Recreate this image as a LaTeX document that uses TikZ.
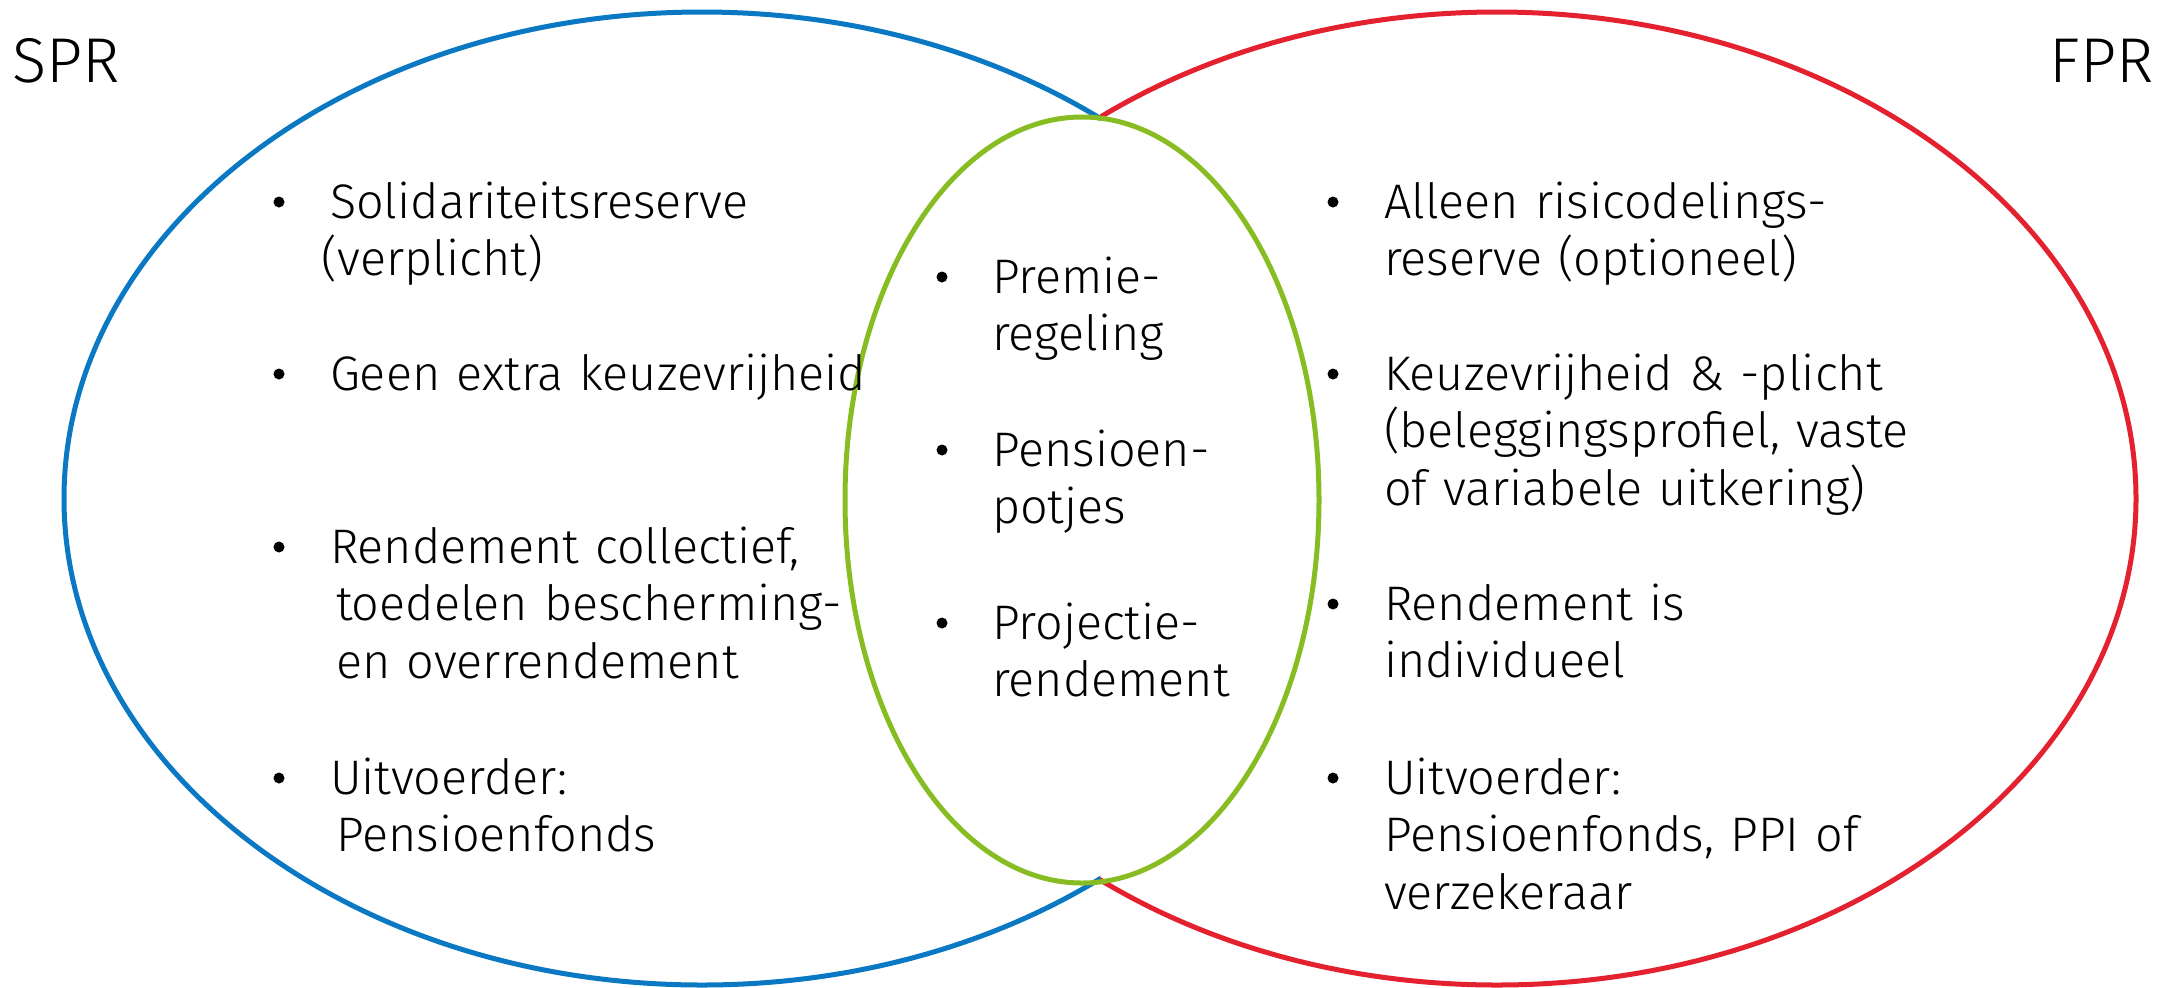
\documentclass[tikz,border=0pt]{standalone}
\usepackage{fontspec}
\setmainfont{Fira Sans Light}
\definecolor{sprblue}{HTML}{0A78C2}
\definecolor{fprred}{HTML}{E3212F}
\definecolor{midgreen}{HTML}{87BD23}
\begin{document}
\begin{tikzpicture}[x=0.01cm,y=-0.01cm,
  ring/.style={line width=0.05cm},
  txt/.style={anchor=base west, inner sep=0pt, outer sep=0pt, align=left, text width=7cm,
    font=\fontsize{13.8pt}{16.36pt}\selectfont},
  bul/.style={circle, fill=black, inner sep=0pt, minimum size=0.11cm},
  title/.style={anchor=base west, inner sep=0pt, font=\fontsize{18pt}{20pt}\selectfont}]
\useasboundingbox (0,0) rectangle (2166,987);
% blue set (left)
\begin{scope}
  \clip (0,0) rectangle (1100,987);
  \draw[ring, sprblue] (702,498.5) ellipse [x radius=638, y radius=486.5];
\end{scope}
% red set (right)
\begin{scope}
  \clip (1100,0) rectangle (2166,987);
  \draw[ring, fprred] (1497,498.5) ellipse [x radius=639, y radius=486.5];
\end{scope}
% green overlap
\draw[ring, midgreen] (1082,500) ellipse [x radius=237, y radius=383];

% titles
\node[title] (spr) at (12,82) {SPR};
\node[title] (fpr) at (2049,82) {FPR};

% left column
\node[bul] (lb1) at (279,202) {};
\node[txt] (lt1) at (330,218) {Solidariteitsreserve\\\hspace*{-0.08cm}(verplicht)};
\node[bul] (lb2) at (279,374) {};
\node[txt] (lt2) at (330,390) {Geen extra keuzevrijheid};
\node[bul] (lb3) at (279,547) {};
\node[txt] (lt3) at (330,563) {Rendement collectief,\\\hspace*{0.06cm}toedelen bescherming-\\\hspace*{0.06cm}en overrendement};
\node[bul] (lb4) at (279,778) {};
\node[txt] (lt4) at (330,794) {Uitvoerder:\\\hspace*{0.06cm}Pensioenfonds};

% middle column
\node[bul] (mb1) at (942,277) {};
\node[txt] (mt1) at (992,293) {Premie-\\regeling};
\node[bul] (mb2) at (942,450) {};
\node[txt] (mt2) at (992,466) {Pensioen-\\potjes};
\node[bul] (mb3) at (942,623) {};
\node[txt] (mt3) at (992,639) {Projectie-\\rendement};

% right column
\node[bul] (rb1) at (1333,202) {};
\node[txt] (rt1) at (1384,218) {Alleen risicodelings-\\reserve (optioneel)};
\node[bul] (rb2) at (1333,374) {};
\node[txt] (rt2) at (1384,390) {Keuzevrijheid \& -plicht\\(beleggingsprofiel, vaste\\of variabele uitkering)};
\node[bul] (rb3) at (1333,604) {};
\node[txt] (rt3) at (1384,620) {Rendement is\\individueel};
\node[bul] (rb4) at (1333,778) {};
\node[txt] (rt4) at (1384,794) {Uitvoerder:\\Pensioenfonds, PPI of\\verzekeraar};
\end{tikzpicture}
\end{document}
